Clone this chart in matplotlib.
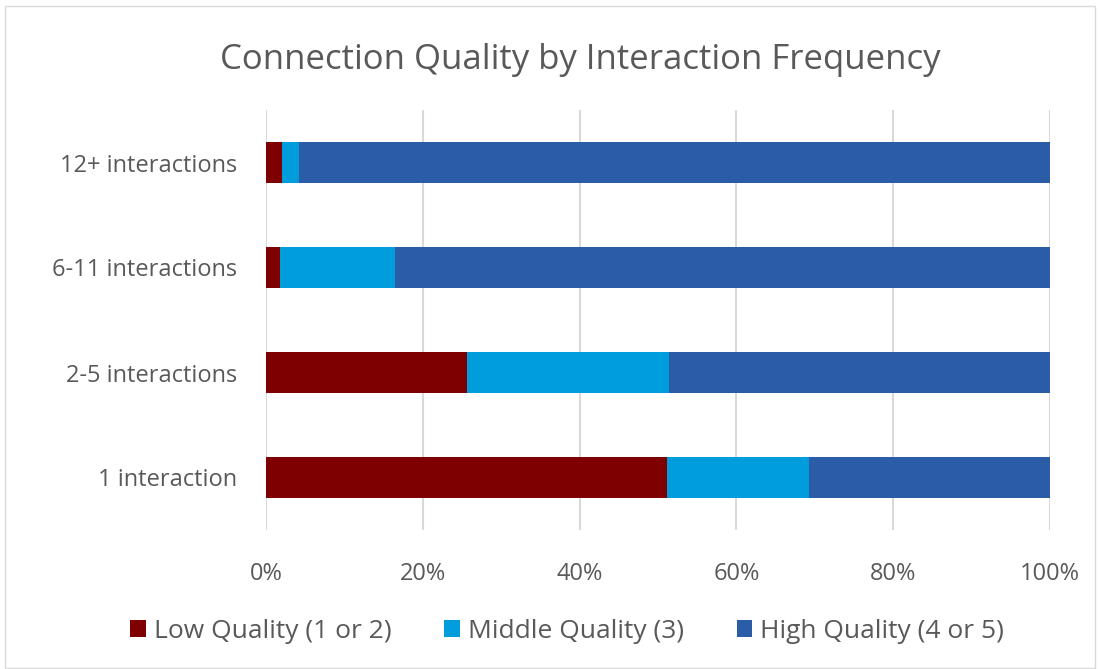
import matplotlib.pyplot as plt
from matplotlib.patches import Rectangle

plt.rcParams['font.family'] = ['Open Sans', 'DejaVu Sans']

categories = ['1 interaction', '2-5 interactions', '6-11 interactions', '12+ interactions']
low = [51.2, 25.7, 1.8, 2.0]
middle = [18.1, 25.7, 14.7, 2.2]
high = [100 - l - m for l, m in zip(low, middle)]
series_names = ['Low Quality (1 or 2)', 'Middle Quality (3)', 'High Quality (4 or 5)']
colors = ['#7F0000', '#009DDC', '#2B5CA8']
xticks = [0, 20, 40, 60, 80, 100]
text_col = '#595959'

fig = plt.figure(figsize=(11, 6.69), dpi=100)
ax = fig.add_axes([266/1100, 1 - 530/669, 784/1100, 420/669])

y = range(len(categories))
h = 0.39
left = [0] * len(categories)
for vals, name, c in zip([low, middle, high], series_names, colors):
    ax.barh(y, vals, left=left, height=h, color=c, label=name, zorder=3)
    left = [a + b for a, b in zip(left, vals)]

ax.set_xlim(0, 100)
ax.set_ylim(-0.5, 3.5)
ax.set_xticks(xticks)
ax.set_xticklabels([f'{t}%' for t in xticks])
ax.set_yticks(list(y))
ax.set_yticklabels(categories)
ax.grid(axis='x', color='#D9D9D9', linewidth=1.5, zorder=0)
for s in ax.spines.values():
    s.set_visible(False)
ax.tick_params(length=0, labelsize=17, colors=text_col)
ax.tick_params(axis='y', pad=21)
ax.tick_params(axis='x', pad=23)

fig.text(580/1100, 1 - 60/669, 'Connection Quality by Interaction Frequency',
         ha='center', va='center', fontsize=25, color=text_col)

fig.legend(loc='center', bbox_to_anchor=(567/1100, 1 - 631/669), ncol=3,
           frameon=False, fontsize=19, labelcolor=text_col,
           handlelength=0.6, handleheight=0.6, handletextpad=0.3, columnspacing=2.0)

fig.add_artist(Rectangle((5/1100, 0.002), 1090/1100, 1 - 6/669 - 0.002,
                         transform=fig.transFigure, fill=False,
                         edgecolor='#D9D9D9', linewidth=1))

fig.savefig('out.png', dpi=100)
